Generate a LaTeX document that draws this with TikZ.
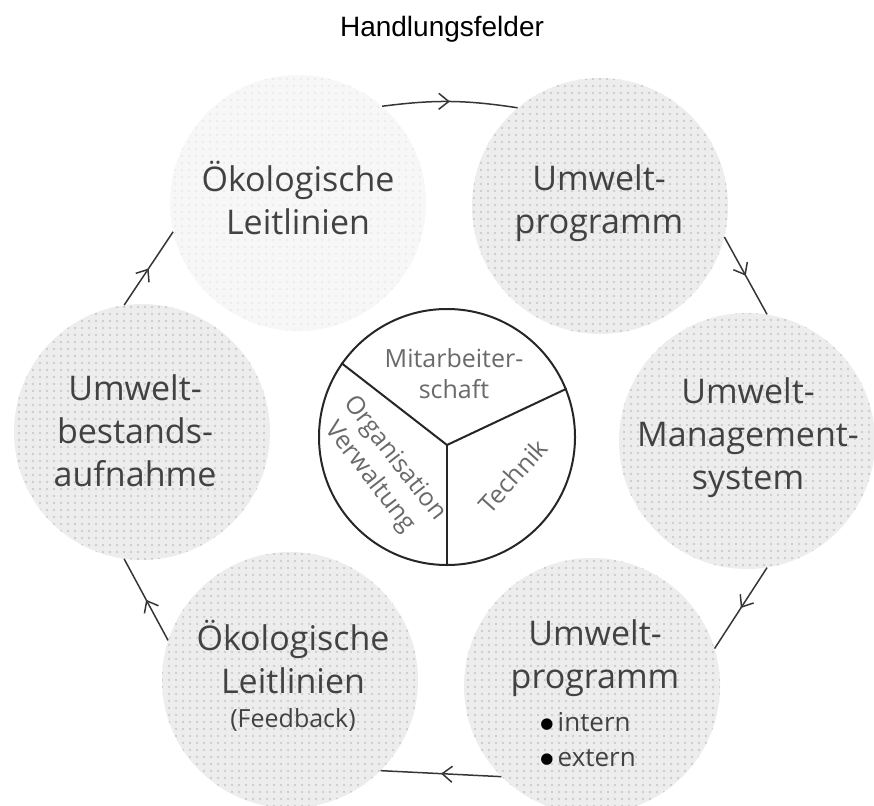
\documentclass[tikz,border=0pt]{standalone}
\usepackage{fontspec}
\newfontfamily\cf{Open Sans}
\newfontfamily\tf{Liberation Sans}
\newfontfamily\df{DejaVu Sans}
\usetikzlibrary{arrows.meta,decorations.markings,patterns.meta}
\definecolor{txt}{HTML}{424242}
\definecolor{hubtxt}{HTML}{6A6A6A}
\definecolor{arr}{HTML}{363636}
\newcommand\blt{{\color{black}\raisebox{3.5pt}{\df\fontsize{15}{0}\selectfont ●}}}
\begin{document}
\begin{tikzpicture}[x=1pt,y=-1pt,
  circ/.style={circle, minimum size=256pt, inner sep=0pt, preaction={fill=#1},
    pattern={Dots[distance=6.5pt,radius=1.4pt]}, pattern color=black!20},
  lbl/.style={font=\cf\fontsize{34}{43}\selectfont, text=txt, align=center, inner sep=0pt},
  sublbl/.style={font=\cf\fontsize{26}{35}\selectfont, text=txt, align=left, inner sep=0pt},
  hub/.style={circle, draw=black!85, line width=2pt, minimum size=256pt, inner sep=0pt, fill=white},
  div/.style={draw=black!85, line width=2pt},
  hublbl/.style={font=\cf\fontsize{25}{31}\selectfont, text=hubtxt, align=center, inner sep=0pt},
  conn/.style={draw=arr, line width=1.5pt, postaction={decorate},
    decoration={markings, mark=at position 0.5 with {\arrow{Straight Barb[length=10pt,width=16pt,line width=1.5pt]}}}}
]
\useasboundingbox (0,0) rectangle (874,805);

\node[font=\tf\fontsize{28}{32}\selectfont, text=black] (title) at (442,29) {Handlungsfelder};

% outer circles
\node[circ=black!3, pattern color=black!8] (tl) at (298,203) {};
\node[circ=black!7] (tr) at (600,206) {};
\node[circ=black!7] (r)  at (747,441) {};
\node[circ=black!7] (br) at (592,686) {};
\node[circ=black!7] (bl) at (290,680) {};
\node[circ=black!7] (l)  at (142,432) {};

% labels
\node[lbl] (tlt) at (298,198) {Ökologische\\Leitlinien};
\node[lbl] (trt) at (599,203) {Umwelt-\\programm};
\node[lbl] (rt)  at (748,438) {Umwelt-\\Management-\\system};
\node[lbl] (lt)  at (135,431) {Umwelt-\\bestands-\\aufnahme};
\node[lbl] (blt) at (293,657) {Ökologische\\Leitlinien};
\node[font=\cf\fontsize{25}{30}\selectfont, text=txt, inner sep=0pt] (blf) at (293,720) {(Feedback)};
\node[lbl] (brt) at (595,658) {Umwelt-\\programm};
\node[sublbl] (brb) at (588,740) {\blt\,intern\\\blt\,extern};

% connectors
\draw[conn] (tl.49) to[bend left=8] (tr.130);
\draw[conn] (tr.-14) -- (r.81);
\draw[conn] (r.-81) -- (br.17);
\draw[conn] (br.-135) -- (bl.-45);
\draw[conn] (bl.162) -- (l.-98);
\draw[conn] (l.98) -- (tl.193);

% hub
\node[hub] (hub) at (447,437) {};
\coordinate (j) at (447,445);
\draw[div] (j) -- (hub.145);
\draw[div] (j) -- (hub.22);
\draw[div] (j) -- (hub.270);
\node[hublbl] (mit) at (454,374) {Mitarbeiter-\\schaft};
\node[hublbl, rotate=48] (tec) at (513,476) {Technik};
\node[hublbl, rotate=-52] (org) at (382,468) {Organisation\\Verwaltung};
\end{tikzpicture}
\end{document}
